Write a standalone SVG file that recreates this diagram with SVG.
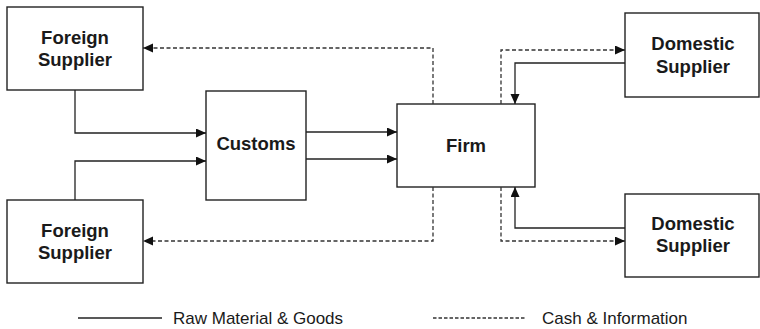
<svg xmlns="http://www.w3.org/2000/svg" width="760" height="329" viewBox="0 0 760 329">
<style>
.box{fill:#fff;stroke:#222;stroke-width:1.4}
.lbl{font-family:"Liberation Sans",Arial,sans-serif;font-weight:bold;font-size:18.5px;fill:#1a1a1a;text-anchor:middle}
.leg{font-family:"Liberation Sans",Arial,sans-serif;font-size:17px;fill:#1a1a1a}
.s{fill:none;stroke:#222;stroke-width:1.3}
.d{fill:none;stroke:#333;stroke-width:1.3;stroke-dasharray:4,2.5}
</style>
<defs>
<marker id="ah" markerUnits="userSpaceOnUse" markerWidth="11" markerHeight="10" refX="10" refY="4.5" orient="auto">
<path d="M0,0 L10,4.5 L0,9 z" fill="#111"/>
</marker>
</defs>
<g id="foreign1"><rect class="box" x="7" y="7" width="136" height="83"/><text class="lbl" x="75" y="43.5">Foreign</text><text class="lbl" x="75" y="65.5">Supplier</text></g>
<g id="foreign2"><rect class="box" x="7" y="200" width="136" height="83"/><text class="lbl" x="75" y="236.5">Foreign</text><text class="lbl" x="75" y="259">Supplier</text></g>
<g id="customs"><rect class="box" x="206" y="91" width="100" height="109"/><text class="lbl" x="256" y="150">Customs</text></g>
<g id="firm"><rect class="box" x="397" y="104" width="138" height="83"/><text class="lbl" x="466" y="152">Firm</text></g>
<g id="domestic1"><rect class="box" x="625" y="13" width="134" height="84"/><text class="lbl" x="693" y="50">Domestic</text><text class="lbl" x="693" y="72.5">Supplier</text></g>
<g id="domestic2"><rect class="box" x="625" y="194" width="134" height="83"/><text class="lbl" x="693" y="229.5">Domestic</text><text class="lbl" x="693" y="252">Supplier</text></g>
<g id="connectors">
<path class="s" d="M75,90 V133 H206" marker-end="url(#ah)"/>
<path class="s" d="M75,200 V161 H206" marker-end="url(#ah)"/>
<path class="s" d="M306,132 H397" marker-end="url(#ah)"/>
<path class="s" d="M306,159 H397" marker-end="url(#ah)"/>
<path class="d" d="M433,104 V48 H143" marker-end="url(#ah)"/>
<path class="d" d="M433,187 V241 H143" marker-end="url(#ah)"/>
<path class="d" d="M501,104 V50 H625" marker-end="url(#ah)"/>
<path class="d" d="M501,187 V241 H625" marker-end="url(#ah)"/>
<path class="s" d="M625,63 H515 V104" marker-end="url(#ah)"/>
<path class="s" d="M625,228 H515 V187" marker-end="url(#ah)"/>
</g>
<g id="legend">
<line class="s" x1="78" y1="318" x2="162" y2="318"/>
<text class="leg" x="173" y="324">Raw Material &amp; Goods</text>
<line class="d" x1="433" y1="318" x2="525" y2="318" style="stroke-dasharray:3.5,2"/>
<text class="leg" x="542" y="324">Cash &amp; Information</text>
</g>
</svg>
